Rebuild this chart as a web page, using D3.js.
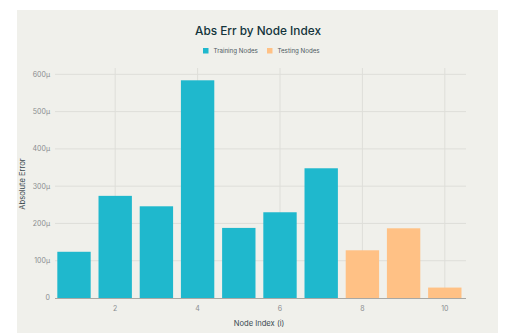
<!DOCTYPE html>
<html><head><meta charset="utf-8">
<script src="https://cdn.jsdelivr.net/npm/d3@7"></script>
<style>body{margin:0;background:#fff;}svg{display:block;font-family:Inter,"Noto Sans",sans-serif;}</style>
</head><body>
<svg id="c" width="515" height="336"></svg>
<script>
const nodes = [1,2,3,4,5,6,7,8,9,10];
const errors = [124,274,246,584,188,230,348,128,187,28];
const groups = ["Training Nodes","Training Nodes","Training Nodes","Training Nodes","Training Nodes","Training Nodes","Training Nodes","Testing Nodes","Testing Nodes","Testing Nodes"];
const seriesNames = ["Training Nodes","Testing Nodes"];
const seriesColors = ["#1FB8CD","#FFC185"];
const yTicks = [0,100,200,300,400,500,600];
const xTicks = [2,4,6,8,10];

const svg = d3.select("#c");
svg.append("rect").attr("x",17).attr("y",10).attr("width",481).attr("height",323).attr("fill","#F0F0EB");

const x = d3.scaleBand().domain(nodes).range([53.4,465.4]).paddingInner(0.19).paddingOuter(0.095);
const y = d3.scaleLinear().domain([0,617]).range([298,68]);
const color = d3.scaleOrdinal().domain(seriesNames).range(seriesColors);
const xc = d => x(d)+x.bandwidth()/2;

// horizontal grid
svg.append("g").selectAll("line").data(yTicks.slice(1)).join("line")
  .attr("x1",55).attr("x2",466).attr("y1",d=>y(d)).attr("y2",d=>y(d))
  .attr("stroke","#DEDED9").attr("stroke-width",1);
// vertical grid
svg.append("g").selectAll("line").data(xTicks).join("line")
  .attr("x1",d=>xc(d)).attr("x2",d=>xc(d)).attr("y1",68).attr("y2",298)
  .attr("stroke","#DEDED9").attr("stroke-width",1);

// bars
svg.append("g").selectAll("rect").data(nodes).join("rect")
  .attr("x",d=>x(d)).attr("width",x.bandwidth())
  .attr("y",(d,i)=>y(errors[i])).attr("height",(d,i)=>y(0)-y(errors[i]))
  .attr("fill",(d,i)=>color(groups[i]));

// zero line
svg.append("line").attr("x1",55).attr("x2",466).attr("y1",y(0)+0.5).attr("y2",y(0)+0.5)
  .attr("stroke","#A8A8A4").attr("stroke-width",1);

// y tick labels
svg.append("g").selectAll("text").data(yTicks).join("text")
  .attr("x",50).attr("y",d=>y(d)).attr("dy","0.35em").attr("text-anchor","end")
  .attr("font-size",7).attr("fill","#8a8d8f")
  .text(d=>d===0?"0":d+"μ");
// x tick labels
svg.append("g").selectAll("text").data(xTicks).join("text")
  .attr("x",d=>xc(d)).attr("y",309).attr("dy","0.35em").attr("text-anchor","middle")
  .attr("font-size",7).attr("fill","#8a8d8f").text(d=>d);

// axis titles
svg.append("text").attr("x",259).attr("y",325.5).attr("text-anchor","middle")
  .attr("font-size",7.6).attr("fill","#3b4a52").text("Node Index (i)");
svg.append("text").attr("transform","translate(25,184) rotate(-90)").attr("text-anchor","middle")
  .attr("font-size",7.6).attr("fill","#3b4a52").text("Absolute Error");

// title
svg.append("text").attr("x",258).attr("y",34.5).attr("text-anchor","middle")
  .attr("font-size",11.8).attr("font-weight",500).attr("fill","#13343B").text("Abs Err by Node Index");

// legend
const leg = svg.append("g");
const legX = [203,267];
seriesNames.forEach((s,i)=>{
  leg.append("rect").attr("x",legX[i]).attr("y",48).attr("width",5.5).attr("height",5.5).attr("fill",seriesColors[i]);
  leg.append("text").attr("x",legX[i]+10.5).attr("y",51).attr("dy","0.35em").attr("font-size",6.2).attr("fill","#4d5a61").text(s);
});
</script>
</body></html>
